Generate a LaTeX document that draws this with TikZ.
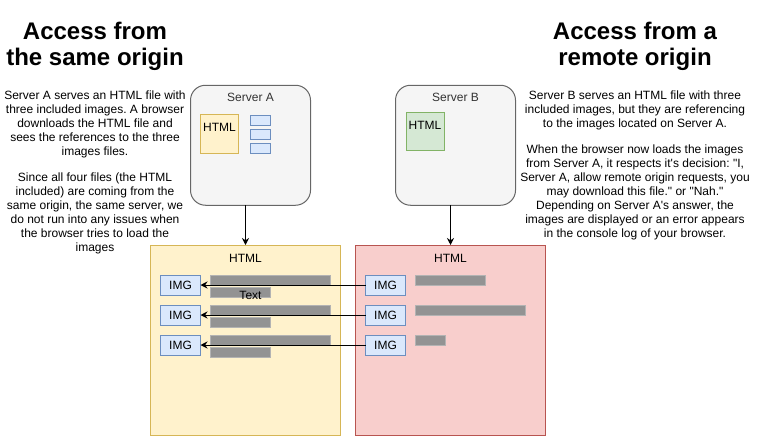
\documentclass[tikz,border=0pt]{standalone}
\usepackage{fontspec}
\setmainfont{Liberation Sans}[Ligatures=TeXOff]
\usetikzlibrary{arrows.meta}
\frenchspacing
\begin{document}
\begin{tikzpicture}[x=1pt,y=-1pt,
    box/.style={draw, line width=1pt, inner sep=0pt, outer sep=0pt, font=\fontsize{12}{14}\selectfont},
    server/.style={box, fill=srvfill, draw=srvline, rounded corners=15pt, minimum width=120pt, minimum height=120pt},
    page/.style={box, minimum width=190pt, minimum height=190pt},
    img/.style={box, fill=imgfill, draw=imgline, minimum width=40pt, minimum height=20pt},
    bar/.style={box, fill=barfill, draw=barline, minimum height=10pt},
    txt/.style={inner sep=0pt, font=\fontsize{12}{14}\selectfont},
    title/.style={inner sep=0pt, anchor=north, align=center, font=\fontsize{24}{26}\selectfont\bfseries},
    arr/.style={line width=1pt, -{Stealth[length=7pt,width=7pt]}}]
    \definecolor{srvfill}{HTML}{F5F5F5}
    \definecolor{srvline}{HTML}{666666}
    \definecolor{srvtext}{HTML}{333333}
    \definecolor{ylwfill}{HTML}{FFF2CC}
    \definecolor{ylwline}{HTML}{D6B656}
    \definecolor{imgfill}{HTML}{DAE8FC}
    \definecolor{imgline}{HTML}{6C8EBF}
    \definecolor{grnfill}{HTML}{D5E8D4}
    \definecolor{grnline}{HTML}{82B366}
    \definecolor{redfill}{HTML}{F8CECC}
    \definecolor{redline}{HTML}{B85450}
    \definecolor{barfill}{HTML}{939393}
    \definecolor{barline}{HTML}{B3B3B3}
    \useasboundingbox (0,0) rectangle (757,436);
    \node[title] (titleA) at (95,21.5) {Access from\\the same origin};
    \node[title] (titleB) at (635,21.5) {Access from a\\remote origin};
    \node[txt, anchor=north, align=center] (textA) at (95,90.5) {Server A serves an HTML file with\\three included images. A browser\\downloads the HTML file and\\sees the references to the three\\images files.\\[12pt]Since all four files (the HTML\\included) are coming from the\\same origin, the same server, we\\do not run into any issues when\\the browser tries to load the\\images};
    \node[txt, anchor=north, align=center] (textB) at (635,90.5) {Server B serves an HTML file with three\\included images, but they are referencing\\to the images located on Server A.\\[12pt]When the browser now loads the images\\from Server A, it respects it's decision: "I,\\Server A, allow remote origin requests, you\\may download this file." or "Nah."\\Depending on Server A's answer, the\\images are displayed or an error appears\\in the console log of your browser.};
    \node[server] (srvA) at (250.5,145.25) {};
    \node[server] (srvB) at (455.5,145.25) {};
    \node[txt, anchor=north, text=srvtext] (srvAlbl) at (250.5,93.3) {Server A};
    \node[txt, anchor=north, text=srvtext] (srvBlbl) at (455.5,93.3) {Server B};
    \node[box, fill=ylwfill, draw=ylwline, minimum width=38.5pt, minimum height=38.5pt] (htmlA) at (219.5,134.2) {};
    \node[txt, anchor=north] (htmlAlbl) at (219.5,123.3) {HTML};
    \node[box, fill=imgfill, draw=imgline, minimum width=20pt, minimum height=10pt] (fileA1) at (260.5,120.2) {};
    \node[box, fill=imgfill, draw=imgline, minimum width=20pt, minimum height=10pt] (fileA2) at (260.5,134.3) {};
    \node[box, fill=imgfill, draw=imgline, minimum width=20pt, minimum height=10pt] (fileA3) at (260.5,148.2) {};
    \node[box, fill=grnfill, draw=grnline, minimum width=38.5pt, minimum height=38.5pt] (htmlB) at (425.5,131.5) {};
    \node[txt, anchor=north] (htmlBlbl) at (425,121) {HTML};
    \node[page, fill=ylwfill, draw=ylwline] (pageA) at (245.5,340) {};
    \node[page, fill=redfill, draw=redline] (pageB) at (450.5,340) {};
    \node[txt, anchor=north] (pageAlbl) at (245.5,254.3) {HTML};
    \node[txt, anchor=north] (pageBlbl) at (450.5,254.5) {HTML};
    \node[img] (imgA1) at (180.5,285) {IMG};
    \node[img] (imgA2) at (180.5,315) {IMG};
    \node[img] (imgA3) at (180.5,345) {IMG};
    \node[img] (imgB1) at (385.5,285) {IMG};
    \node[img] (imgB2) at (385.5,315) {IMG};
    \node[img] (imgB3) at (385.5,345) {IMG};
    \node[bar, minimum width=120pt] (barA1) at (270.5,280) {};
    \node[bar, minimum width=60pt] (barA1b) at (240.5,292.5) {};
    \node[bar, minimum width=120pt] (barA2) at (270.5,310) {};
    \node[bar, minimum width=60pt] (barA2b) at (240.5,322.5) {};
    \node[bar, minimum width=120pt] (barA3) at (270.5,340) {};
    \node[bar, minimum width=60pt] (barA3b) at (240.5,352.5) {};
    \node[bar, minimum width=70pt] (barB1) at (450.7,280) {};
    \node[bar, minimum width=110pt] (barB2) at (470.7,310) {};
    \node[bar, minimum width=30pt] (barB3) at (430.7,340) {};
    \node[txt] (textlbl) at (250.5,295.5) {Text};
    \draw[arr] (pageA.north |- srvA.south) -- (pageA.north);
    \draw[arr] (pageB.north |- srvB.south) -- (pageB.north);
    \draw[arr] (imgB1.west) -- (imgA1.east);
    \draw[arr] (imgB2.west) -- (imgA2.east);
    \draw[arr] (imgB3.west) -- (imgA3.east);
\end{tikzpicture}
\end{document}
